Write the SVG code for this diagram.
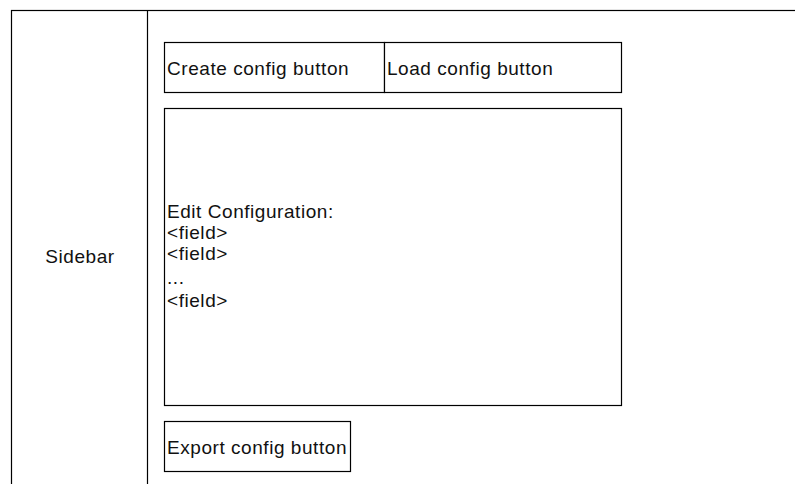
<svg xmlns="http://www.w3.org/2000/svg" width="795" height="484" viewBox="0 0 795 484">
  <style>
    .box { fill: #ffffff; stroke: #000000; stroke-width: 1.2; }
    .label { font-family: "Liberation Sans", Arial, sans-serif; font-size: 19px; letter-spacing: 0.55px; fill: #111111; }
    .mid { text-anchor: middle; }
  </style>
  <rect width="795" height="484" fill="#ffffff"/>

  <!-- page frame with sidebar column -->
  <g id="frame">
    <rect class="box" x="11.5" y="10.5" width="820" height="520"/>
    <line x1="147.5" y1="10.5" x2="147.5" y2="490" stroke="#000000" stroke-width="1.2"/>
  </g>

  <g id="sidebar">
    <text class="label mid" x="80" y="263">Sidebar</text>
  </g>

  <g id="create-config">
    <rect class="box" x="164.5" y="42.5" width="220" height="50"/>
    <text class="label" x="167" y="75">Create config button</text>
  </g>

  <g id="load-config">
    <rect class="box" x="384.5" y="42.5" width="237" height="50"/>
    <text class="label" x="387" y="75">Load config button</text>
  </g>

  <g id="edit-config">
    <rect class="box" x="164.5" y="108.5" width="457" height="297"/>
    <text class="label" x="167" y="218">Edit Configuration:</text>
    <text class="label" x="167" y="238.5">&lt;field&gt;</text>
    <text class="label" x="167" y="259.5">&lt;field&gt;</text>
    <text class="label" x="167" y="284">...</text>
    <text class="label" x="167" y="306.5">&lt;field&gt;</text>
  </g>

  <g id="export-config">
    <rect class="box" x="164.5" y="421.5" width="186" height="50"/>
    <text class="label" x="167" y="453.5">Export config button</text>
  </g>

  <g id="connectors"/>
</svg>
